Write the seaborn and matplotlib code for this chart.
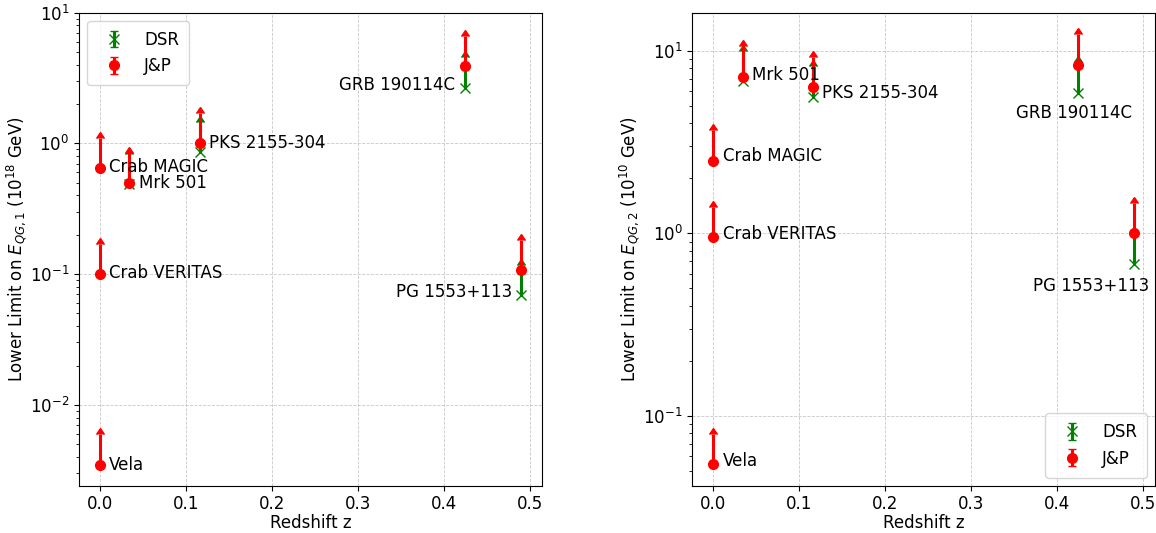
import matplotlib
matplotlib.use("Agg")
import matplotlib.pyplot as plt
import seaborn as sns
import numpy as np

# ---------------- data ----------------
sources = ["Vela", "Crab VERITAS", "Crab MAGIC", "Mrk 501",
           "PKS 2155-304", "GRB 190114C", "PG 1553+113"]
redshift = [0.0, 0.0, 0.0, 0.034, 0.116, 0.4245, 0.49]

# J&P lower limits
jp_eqg1 = [0.0035, 0.10, 0.65, 0.50, 1.0, 3.9, 0.107]      # 10^18 GeV
jp_eqg2 = [0.054, 0.95, 2.5, 7.2, 6.3, 8.4, 1.0]           # 10^10 GeV

# DSR lower limits (only for the extragalactic sources)
dsr_sources = ["Mrk 501", "PKS 2155-304", "GRB 190114C", "PG 1553+113"]
dsr_eqg1 = [0.49, 0.86, 2.67, 0.069]
dsr_eqg2 = [6.8, 5.6, 5.9, 0.68]

# arrow length as a fraction of the value
arrow_frac1 = 0.70
arrow_frac2 = 0.47

# ---------------- style ----------------
sns.set_style("ticks")
plt.rcParams.update({
    "font.family": ["DejaVu Sans"],
    "axes.edgecolor": "black",
    "xtick.color": "black",
    "ytick.color": "black",
    "axes.labelcolor": "black",
    "text.color": "black",
    "font.size": 12,
    "axes.labelsize": 12,
    "xtick.labelsize": 12,
    "ytick.labelsize": 12,
    "legend.fontsize": 12,
    "xtick.major.pad": 3.0,
})

fig = plt.figure(figsize=(11.56, 5.33), dpi=100)
ax1 = fig.add_axes([0.0683, 0.0882, 0.4008, 0.8883])
ax2 = fig.add_axes([0.5989, 0.0882, 0.4005, 0.8883])

z_of = dict(zip(sources, redshift))
dsr_z = [z_of[s] for s in dsr_sources]

# label placement (dx, dy in pixels, ha, anchor series)
labels1 = {
    "Vela": (8.6, 0, "left", "jp"),
    "Crab VERITAS": (8.6, 1, "left", "jp"),
    "Crab MAGIC": (8.6, 1, "left", "jp"),
    "Mrk 501": (9.7, 0, "left", "jp"),
    "PKS 2155-304": (9.3, 0, "left", "jp"),
    "GRB 190114C": (-9.7, 3, "right", "dsr"),
    "PG 1553+113": (-8.6, 3, "right", "dsr"),
}
labels2 = {
    "Vela": (9.4, 3.3, "left", "jp"),
    "Crab VERITAS": (9.4, 3.7, "left", "jp"),
    "Crab MAGIC": (9.4, 4.3, "left", "jp"),
    "Mrk 501": (9.3, 2, "left", "jp"),
    "PKS 2155-304": (9.4, -5.7, "left", "jp"),
    "GRB 190114C": (-4, -20.4, "center", "dsr"),
    "PG 1553+113": (15, -22, "right", "dsr"),
}


def draw(ax, jp, dsr, frac, labels, ylabel, legend_loc, ylim=None):
    jp = np.asarray(jp)
    dsr = np.asarray(dsr)
    ax.errorbar(dsr_z, dsr, yerr=[np.zeros_like(dsr), dsr * frac],
                lolims=True, fmt="x", color="green", ecolor="green",
                markersize=7, elinewidth=2.2, label="DSR", zorder=2)
    ax.errorbar(redshift, jp, yerr=[np.zeros_like(jp), jp * frac],
                lolims=True, fmt="o", color="red", ecolor="red",
                markersize=7, elinewidth=2.2, label="J&P", zorder=3)
    ax.set_yscale("log")
    if ylim is not None:
        ax.set_ylim(*ylim)
    ax.grid(True, which="major", linestyle="--", linewidth=0.6, color="#c8c8c8")
    ax.set_xlabel("Redshift z", labelpad=0.5)
    ax.set_ylabel(ylabel, labelpad=0.5)
    ax.set_xticks([0.0, 0.1, 0.2, 0.3, 0.4, 0.5])
    dsr_val = dict(zip(dsr_sources, dsr))
    for name, z, v in zip(sources, redshift, jp):
        dx, dy, ha, anc = labels[name]
        y = dsr_val[name] if anc == "dsr" else v
        ax.annotate(name, (z, y), xytext=(dx, dy), textcoords="offset pixels",
                    ha=ha, va="center", fontsize=12)
    ax.legend(loc=legend_loc, borderpad=0.6, handlelength=2.0)


draw(ax1, jp_eqg1, dsr_eqg1, arrow_frac1, labels1,
     r"Lower Limit on $E_{QG,1}$ ($10^{18}$ GeV)", "upper left",
     ylim=(10 ** -2.62, 10.0))
draw(ax2, jp_eqg2, dsr_eqg2, arrow_frac2, labels2,
     r"Lower Limit on $E_{QG,2}$ ($10^{10}$ GeV)", "lower right")

fig.savefig("out.png", dpi=100)
